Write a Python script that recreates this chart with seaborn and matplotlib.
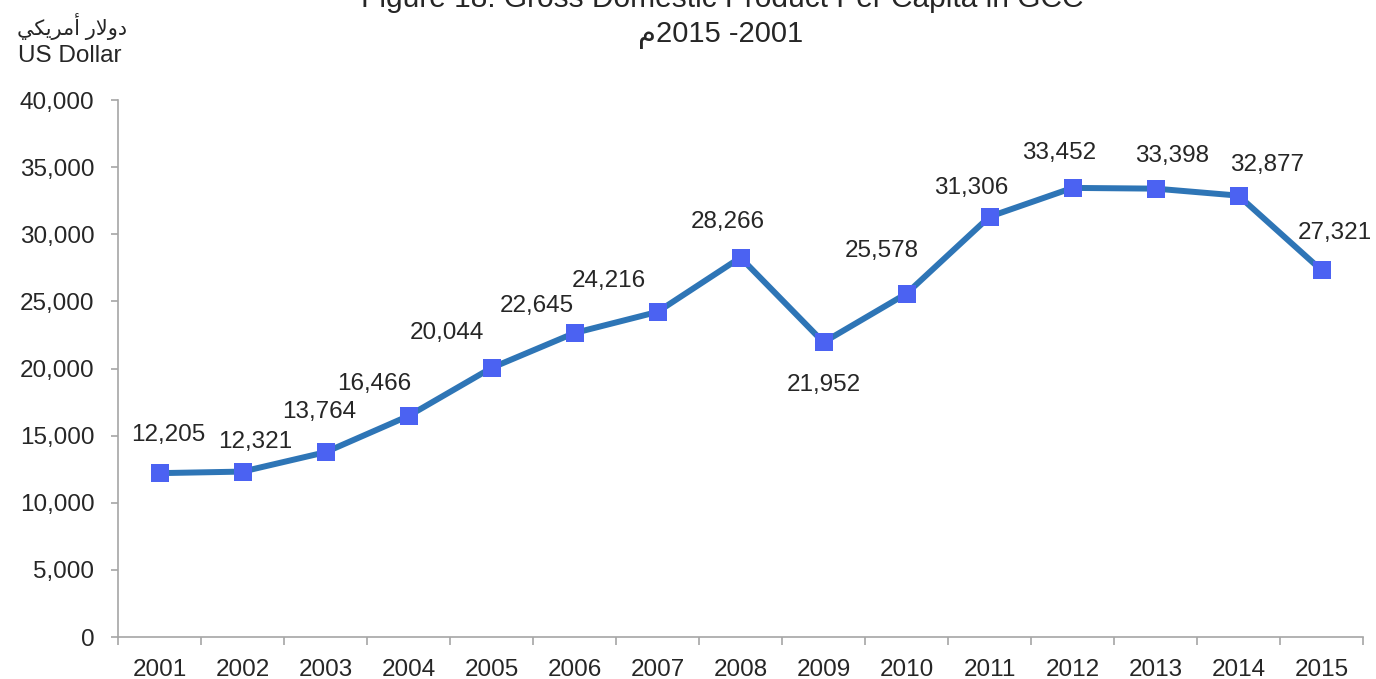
import numpy as np
import pandas as pd
import matplotlib
matplotlib.use("Agg")
import matplotlib.pyplot as plt
from matplotlib.ticker import FuncFormatter, FixedLocator
import seaborn as sns

# data
years = ["2001", "2002", "2003", "2004", "2005", "2006", "2007", "2008",
         "2009", "2010", "2011", "2012", "2013", "2014", "2015"]
gdp_per_capita = [12205, 12321, 13764, 16466, 20044, 22645, 24216, 28266,
                  21952, 25578, 31306, 33452, 33398, 32877, 27321]

# label offsets in pixels (dx, dy) relative to each point
label_offsets = [(9, 38), (13, 30), (-6, 40), (-34, 32), (-45, 35), (-38, 27),
                 (-49, 31), (-13, 36), (0, -43), (-25, 43), (-18, 29),
                 (-13, 35), (17, 33), (29, 31), (13, 37)]

title_line1 = "Figure 18: Gross Domestic Product Per Capita in GCC"
title_line2 = "\uFEE12015 -2001"  # م2015 -2001 as it appears in the source
# "دولار أمريكي" in visual order, presentation forms
unit_ar = "\uFEF2\uFEDC\uFEF3\uFEAE\uFEE3\uFE83 \uFEAD\uFEFB\uFEED\uFEA9"
unit_en = "US Dollar"

sns.set_style("ticks")
plt.rcParams["font.family"] = ["Liberation Sans", "DejaVu Sans"]
TEXT = "#262626"
SPINE = "#A6A6A6"

df = pd.DataFrame({"pos": np.arange(len(years)), "gdp": gdp_per_capita})

fig = plt.figure(figsize=(13.76, 6.79), dpi=100)
ax = fig.add_axes([118 / 1376, 42 / 679, 1245 / 1376, 537 / 679])

sns.lineplot(data=df, x="pos", y="gdp", ax=ax, color="#2E75B6", linewidth=4.3,
             marker="s", markersize=13, markerfacecolor="#4B62F2",
             markeredgecolor="#4B62F2", markeredgewidth=0, zorder=3)

for x, y, (dx, dy) in zip(df["pos"], df["gdp"], label_offsets):
    ax.annotate(f"{y:,}", (x, y), xytext=(dx * 0.72, dy * 0.72),
                textcoords="offset points", ha="center", va="center",
                fontsize=17.5, color=TEXT)

ax.set_xlim(-0.5, len(years) - 0.5)
ax.set_ylim(0, 40000)
ax.yaxis.set_major_locator(FixedLocator(np.arange(0, 40001, 5000)))
ax.yaxis.set_major_formatter(FuncFormatter(lambda v, p: f"{int(v):,}"))
ax.set_xticks(np.arange(len(years)))
ax.set_xticklabels(years)
ax.set_xticks(np.arange(-0.5, len(years)), minor=True)
ax.tick_params(axis="x", which="major", length=0, pad=16, labelsize=17.5, labelcolor=TEXT)
ax.tick_params(axis="x", which="minor", length=6, width=1.2, color=SPINE, direction="out")
ax.tick_params(axis="y", length=5, width=1.2, color=SPINE, pad=12, labelsize=17.5,
               labelcolor=TEXT)
ax.set_xlabel("")
ax.set_ylabel("")

sns.despine(ax=ax)
for side in ["left", "bottom"]:
    ax.spines[side].set_color(SPINE)
    ax.spines[side].set_linewidth(1.2)

# titles and unit labels (first title line is cut at the top, as in the source)
fig.text(722 / 1376, 1 - 7 / 679, title_line1, ha="center", va="baseline",
         fontsize=21.5, color=TEXT)
fig.text(721 / 1376, 1 - 35 / 679, title_line2, ha="center", va="center",
         fontsize=21, color=TEXT)
fig.text(72 / 1376, 1 - 26 / 679, unit_ar, ha="center", va="center",
         fontsize=15, color=TEXT)
fig.text(70 / 1376, 1 - 56 / 679, unit_en, ha="center", va="center",
         fontsize=17.5, color=TEXT)

fig.savefig("out.png", dpi=100)
